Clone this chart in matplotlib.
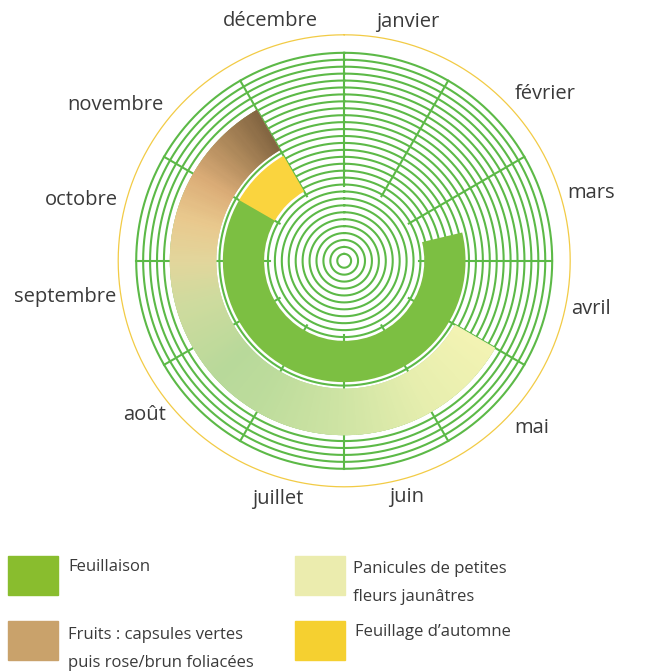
import numpy as np
import matplotlib
matplotlib.use("Agg")
import matplotlib.pyplot as plt
from matplotlib.colors import LinearSegmentedColormap
from matplotlib.patches import Rectangle

W, H, DPI = 654, 671, 100

months = ["janvier", "février", "mars", "avril", "mai", "juin",
          "juillet", "août", "septembre", "octobre", "novembre", "décembre"]

# periods in months counted from 1 January (0 = start of janvier)
feuillaison = (2.55, 10.0)
feuillage_automne = (10.0, 11.0)
fleurs_fruits = (4.0, 11.0)

# colour of the flowers -> fruits band along the year
band_stops_month = [4.0, 5.0, 6.0, 7.0, 7.6, 8.5, 9.0, 9.5, 10.0, 10.5, 11.0]
band_stops_color = ["#f3f3b3", "#e6eeae", "#cfe4a4", "#bddc9c", "#b8d99a",
                    "#cfdb9e", "#e2d69c", "#e9c98e", "#dcae78", "#b08a5c",
                    "#846642"]

legend_labels = ["Feuillaison", "Fruits : capsules vertes\npuis rose/brun foliacées",
                 "Panicules de petites\nfleurs jaunâtres", "Feuillage d’automne"]
legend_colors = ["#89bd2e", "#c9a26b", "#ebecae", "#f5d030"]

GREEN = "#5cb947"
LEAF = "#7cbf42"
AUTUMN = "#fad43e"
TEXT = "#3a3a3a"
FONT = ["Open Sans", "DejaVu Sans"]

N_RINGS = 30
R_OUT = 208.0
S = R_OUT / N_RINGS          # ring spacing (px)
R_MAX = 260.0                # axes radius in px


def ang(m):
    return np.asarray(m) * 2 * np.pi / 12


fig = plt.figure(figsize=(W / DPI, H / DPI), dpi=DPI)
cx, cy = 344.2, 260.8
ax = fig.add_axes([(cx - R_MAX) / W, (H - cy - R_MAX) / H, 2 * R_MAX / W, 2 * R_MAX / H],
                  projection="polar")
ax.set_theta_zero_location("N")
ax.set_theta_direction(-1)
ax.set_rlim(0, R_MAX)
ax.axis("off")

# concentric rings
full = np.linspace(0, 2 * np.pi, 721)
for k in range(1, N_RINGS + 1):
    ax.plot(full, np.full_like(full, k * S), color=GREEN, lw=1.5, zorder=1)

# month dividers
for m in range(12):
    ax.plot([ang(m), ang(m)], [10.75 * S, R_OUT], color=GREEN, lw=1.5, zorder=2)

# inner track: feuillaison + feuillage d'automne
r_in1, r_out1 = 11.55 * S, 17.5 * S
ax.bar(ang(feuillaison[0]), r_out1 - r_in1, width=ang(feuillaison[1] - feuillaison[0]),
       bottom=r_in1, align="edge", color=LEAF, lw=0, zorder=3)
ax.bar(ang(feuillage_automne[0]), r_out1 - r_in1,
       width=ang(feuillage_automne[1] - feuillage_automne[0]),
       bottom=r_in1, align="edge", color=AUTUMN, lw=0, zorder=3)

# outer track: panicules -> fruits, gradient along the year
r_in2, r_out2 = 18.45 * S, 25.15 * S
pos = [(m - band_stops_month[0]) / (band_stops_month[-1] - band_stops_month[0])
       for m in band_stops_month]
cmap = LinearSegmentedColormap.from_list("band", list(zip(pos, band_stops_color)))
# solid base so the rings never show through the seams
ax.bar(ang(fleurs_fruits[0]), r_out2 - r_in2, width=ang(fleurs_fruits[1] - fleurs_fruits[0]),
       bottom=r_in2, align="edge", color=cmap(0.5), lw=0, zorder=3)
n_seg = 300
edges = np.linspace(fleurs_fruits[0], fleurs_fruits[1], n_seg + 1)
step = np.diff(edges)
widths = step.copy()
widths[:-1] *= 1.8
cols = cmap(np.linspace(0, 1, n_seg))
ax.bar(ang(edges[:-1]), r_out2 - r_in2, width=ang(widths), bottom=r_in2,
       align="edge", color=cols, lw=0, zorder=4)

# thin yellow outline
ax.plot(full, np.full_like(full, 226), color="#f2cb45", lw=0.9, zorder=1)

# month labels (angle in degrees clockwise from top, radius in px)
label_layout = [(14.8, 247), (50.3, 261), (74.6, 256), (101, 251), (131.8, 251),
                (165.3, 244), (195.7, 247), (232.4, 252), (262.6, 281), (283.1, 270),
                (304.3, 277), (342.9, 251)]
for name, (a, r) in zip(months, label_layout):
    ax.text(np.deg2rad(a), r, name, ha="center", va="center", fontsize=14.5,
            color=TEXT, family=FONT)

# legend
box_pos = [(8, 556), (8, 621), (295, 556), (295, 621)]
text_pos = [(68, 567), (68, 649), (353, 583), (355, 632)]
for lab, col, (bx, by), (tx, ty) in zip(legend_labels, legend_colors, box_pos, text_pos):
    fig.patches.append(Rectangle((bx / W, 1 - (by + 39) / H), 50 / W, 39 / H,
                                 transform=fig.transFigure, color=col))
    fig.text(tx / W, 1 - ty / H, lab, ha="left", va="center", fontsize=12,
             color=TEXT, family=FONT, linespacing=1.95)

fig.savefig("out.png", dpi=DPI)
